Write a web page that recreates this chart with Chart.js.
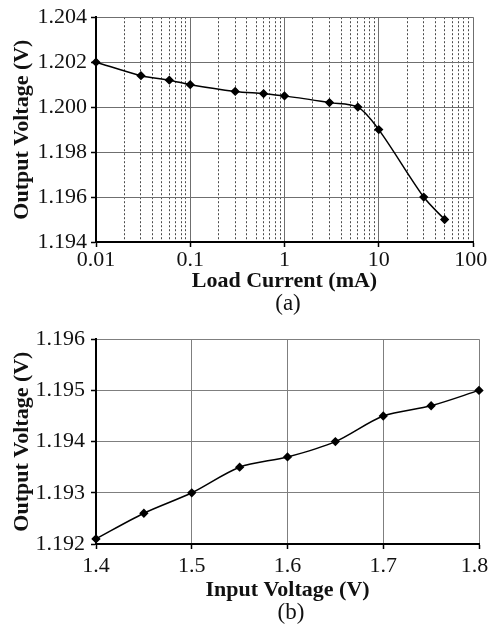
<!DOCTYPE html>
<html>
<head>
<meta charset="utf-8">
<script src="https://cdn.jsdelivr.net/npm/chart.js@4"></script>
<style>
  html, body { margin: 0; padding: 0; background: #fff; }
  body { width: 488px; height: 632px; position: relative; overflow: hidden; font-family: 'Liberation Serif', 'Times New Roman', serif; }
  .box { position: absolute; left: 0; width: 488px; }
  .cap { position: absolute; font-size: 23px; color: #111; transform: translate(-50%, -50%); white-space: nowrap; }
</style>
</head>
<body>
<div class="box" id="boxA" style="top:0;height:292px"><canvas id="chartA"></canvas></div>
<div class="cap" id="capA" style="left:288px;top:303px">(a)</div>
<div class="box" id="boxB" style="top:320px;height:281px"><canvas id="chartB"></canvas></div>
<div class="cap" id="capB" style="left:291px;top:612px">(b)</div>
<script>
// ---- Chart (a): output voltage vs load current ----
const loadCurrent = [0.01, 0.03, 0.06, 0.1, 0.3, 0.6, 1, 3, 6, 10, 30, 50];
const outputVoltageA = [1.2020, 1.2014, 1.2012, 1.2010, 1.2007, 1.2006, 1.2005, 1.2002, 1.2000, 1.1990, 1.1960, 1.1950];
const decadesA = [0.01, 0.1, 1, 10, 100];
const decadeLabelsA = ['0.01', '0.1', '1', '10', '100'];
const minorStepsA = [2, 3, 4, 5, 6, 7, 8, 9];
const yTicksA = [1.194, 1.196, 1.198, 1.200, 1.202, 1.204];

// ---- Chart (b): output voltage vs input voltage ----
const inputVoltage = [1.40, 1.45, 1.50, 1.55, 1.60, 1.65, 1.70, 1.75, 1.80];
const outputVoltageB = [1.1921, 1.1926, 1.1930, 1.1935, 1.1937, 1.1940, 1.1945, 1.1947, 1.1950];
const xTicksB = [1.4, 1.5, 1.6, 1.7, 1.8];
const yTicksB = [1.192, 1.193, 1.194, 1.195, 1.196];

const FONT = "'Liberation Serif', 'Times New Roman', serif";
const tickFont = { family: FONT, size: 22 };
const titleFont = { family: FONT, size: 22, weight: 'bold', lineHeight: 1 };
// keeps the last tick label inside the picture, like the reference
const lastLabelPad = '\u2009\u2009';

// log tick values: decades plus 2..9 within each decade
const logTickValuesA = [];
decadesA.forEach((d, i) => {
  logTickValuesA.push(d);
  if (i < decadesA.length - 1) minorStepsA.forEach(k => logTickValuesA.push(+(d * k).toPrecision(3)));
});
const isDecade = v => decadesA.indexOf(v) !== -1;

const lineDataset = (xs, ys) => ({
  data: xs.map((x, i) => ({ x: x, y: ys[i] })),
  borderColor: '#000',
  backgroundColor: '#000',
  borderWidth: 1.5,
  pointStyle: 'rectRot',
  pointRadius: 3.6,
  pointHoverRadius: 3.6,
  tension: 0.3,
  clip: false
});

new Chart(document.getElementById('chartA'), {
  type: 'line',
  data: { datasets: [lineDataset(loadCurrent, outputVoltageA)] },
  options: {
    responsive: true,
    maintainAspectRatio: false,
    animation: false,
    events: [],
    layout: { padding: { top: 17, right: 15, left: 0, bottom: 0 } },
    plugins: { legend: { display: false }, tooltip: { enabled: false } },
    scales: {
      x: {
        type: 'logarithmic',
        min: 0.01, max: 100,
        afterBuildTicks: s => { s.ticks = logTickValuesA.map(v => ({ value: v, major: isDecade(v) })); },
        afterFit: s => { s.height = 50; s.paddingLeft = 0; s.paddingRight = 0; },
        ticks: {
          autoSkip: false, maxRotation: 0, minRotation: 0, padding: 0, color: '#111', font: tickFont,
          callback: v => {
            const i = decadesA.indexOf(v);
            if (i === -1) return '';
            return decadeLabelsA[i] + (i === decadesA.length - 1 ? '\u2009' : '');
          }
        },
        grid: {
          color: ctx => (ctx.tick && isDecade(ctx.tick.value)) ? '#6f6f6f' : '#4a4a4a',
          lineWidth: 1,
          tickLength: 5,
          tickColor: ctx => (ctx.tick && isDecade(ctx.tick.value)) ? '#000' : 'rgba(0,0,0,0)',
          tickWidth: 1.5
        },
        border: {
          color: '#000', width: 2,
          dash: ctx => (ctx.tick && !isDecade(ctx.tick.value)) ? [2, 2] : []
        },
        title: { display: true, text: 'Load Current (mA)', color: '#111', font: titleFont, padding: { top: 0, bottom: 0 } }
      },
      y: {
        min: 1.194, max: 1.204,
        afterBuildTicks: s => { s.ticks = yTicksA.map(v => ({ value: v })); },
        afterFit: s => { s.width = 96; },
        ticks: { padding: 4, color: '#111', font: tickFont, callback: v => v.toFixed(3) },
        grid: { color: '#6f6f6f', lineWidth: 1, tickLength: 5, tickColor: '#000', tickWidth: 1.5 },
        border: { color: '#000', width: 2 },
        title: { display: true, text: 'Output Voltage (V)', color: '#111', font: titleFont, padding: { top: 11, bottom: 0 } }
      }
    }
  }
});

new Chart(document.getElementById('chartB'), {
  type: 'line',
  data: { datasets: [lineDataset(inputVoltage, outputVoltageB)] },
  options: {
    responsive: true,
    maintainAspectRatio: false,
    animation: false,
    events: [],
    layout: { padding: { top: 10, right: 9, left: 0, bottom: 0 } },
    plugins: { legend: { display: false }, tooltip: { enabled: false } },
    scales: {
      x: {
        type: 'linear',
        min: 1.4, max: 1.8,
        afterBuildTicks: s => { s.ticks = xTicksB.map(v => ({ value: v })); },
        afterFit: s => { s.height = 57; s.paddingLeft = 0; s.paddingRight = 0; },
        ticks: {
          autoSkip: false, maxRotation: 0, minRotation: 0, padding: 4, color: '#111', font: tickFont,
          callback: (v, i, arr) => v.toFixed(1) + (i === arr.length - 1 ? lastLabelPad : '')
        },
        grid: { color: '#7f7f7f', lineWidth: 1, tickLength: 5, tickColor: '#000', tickWidth: 1.5 },
        border: { color: '#000', width: 2 },
        title: { display: true, text: 'Input Voltage (V)', color: '#111', font: titleFont, padding: { top: 0, bottom: 0 } }
      },
      y: {
        min: 1.192, max: 1.196,
        afterBuildTicks: s => { s.ticks = yTicksB.map(v => ({ value: v })); },
        afterFit: s => { s.width = 96; },
        ticks: { padding: 6, color: '#111', font: tickFont, callback: v => v.toFixed(3) },
        grid: { color: '#7f7f7f', lineWidth: 1, tickLength: 5, tickColor: '#000', tickWidth: 1.5 },
        border: { color: '#000', width: 2 },
        title: { display: true, text: 'Output Voltage (V)', color: '#111', font: titleFont, padding: { top: 11, bottom: 0 } }
      }
    }
  }
});
</script>
</body>
</html>
